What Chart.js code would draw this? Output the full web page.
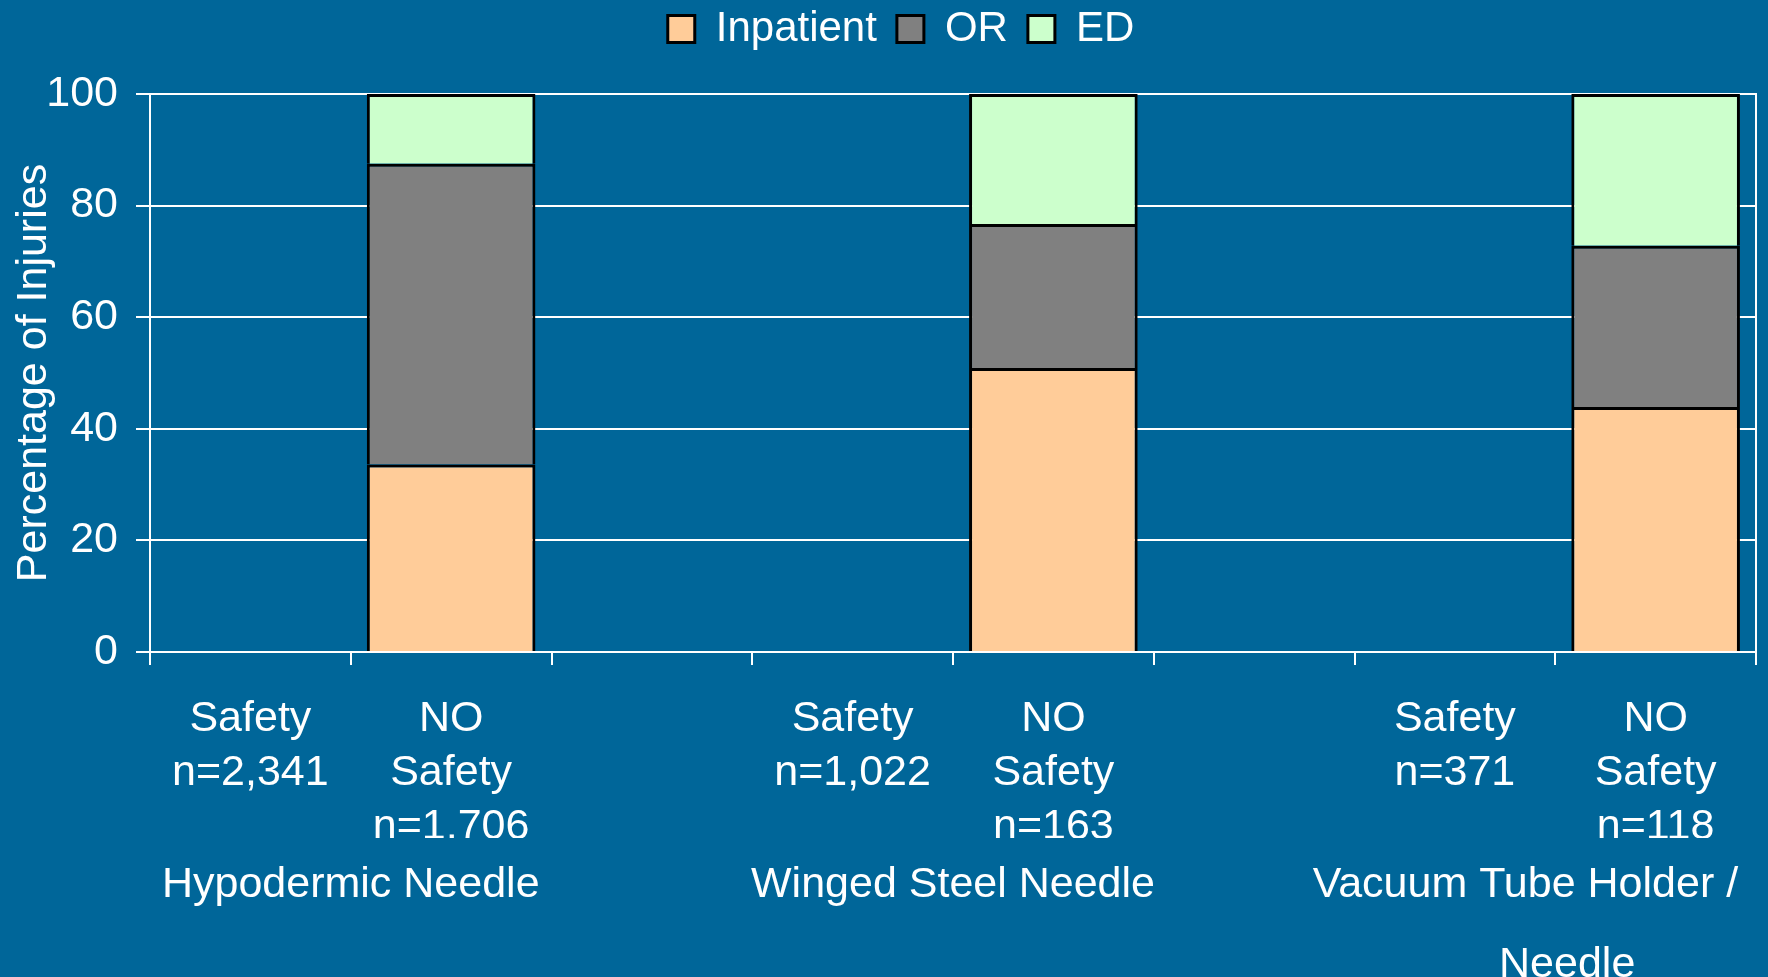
<!DOCTYPE html>
<html>
<head>
<meta charset="utf-8">
<script src="https://cdn.jsdelivr.net/npm/chart.js@4/dist/chart.umd.min.js"></script>
<style>
  html, body { margin: 0; padding: 0; background: #006699; }
  #wrap { width: 1768px; height: 977px; }
</style>
</head>
<body>
<div id="wrap"><canvas id="injuryChart"></canvas></div>
<script>
// categories (one slot per bar, empty slots are the gaps between devices)
var categories = [
    ["Safety", "n=2,341"], ["NO", "Safety", "n=1,706"], "",
    ["Safety", "n=1,022"], ["NO", "Safety", "n=163"], "",
    ["Safety", "n=371"], ["NO", "Safety", "n=118"]
];

// device groups, centred between their two bars
var groupNames = ["Hypodermic Needle", "Winged Steel Needle", ["Vacuum Tube Holder /     ", "  Needle"]];
var groupSlots = [1, 4, 7];

// percentages (Safety bars have no values)
var inpatient = [null, 33.6, null, null, 50.9, null, null, 43.9];
var orValues  = [null, 53.9, null, null, 25.8, null, null, 28.9];
var edValues  = [null, 12.5, null, null, 23.3, null, null, 27.2];

var yTicks = [0, 20, 40, 60, 80, 100];

var font = "'Liberation Sans', Arial, sans-serif";

// legend sits high, plot starts well below it
var legendPlacement = {
    id: "legendPlacement",
    beforeInit: function(chart) {
        var fit = chart.legend.fit;
        chart.legend.fit = function() {
            fit.call(this);
            this.height = 106;
        };
    },
    afterLayout: function(chart) {
        chart.legend.left += 19;
        chart.legend.right += 19;
    }
};

// labels may hang past the plot edges without shrinking it
function noSidePadding(scale) {
    scale.paddingLeft = 0;
    scale.paddingRight = 0;
}

new Chart("injuryChart", {
    type: "bar",
    data: {
        labels: categories,
        datasets: [{
            label: "Inpatient",
            data: inpatient,
            backgroundColor: "#FFCC99",
            borderColor: "#000000",
            borderWidth: 3
        }, {
            label: "OR",
            data: orValues,
            backgroundColor: "#808080",
            borderColor: "#000000",
            borderWidth: 3
        }, {
            label: "ED",
            data: edValues,
            backgroundColor: "#CCFFCC",
            borderColor: "#000000",
            borderWidth: 3
        }]
    },
    plugins: [legendPlacement],
    options: {
        responsive: true,
        maintainAspectRatio: false,
        animation: false,
        barPercentage: 0.84,
        categoryPercentage: 1,
        layout: {
            padding: { left: 8, right: 12, top: -12, bottom: 0 }
        },
        plugins: {
            tooltip: { enabled: false },
            legend: {
                position: "top",
                labels: {
                    color: "#ffffff",
                    font: { family: font, size: 42 },
                    boxWidth: 27,
                    boxHeight: 27,
                    padding: 20
                }
            }
        },
        scales: {
            x: {
                stacked: true,
                afterFit: function(scale) {
                    scale.height = 186;
                    noSidePadding(scale);
                },
                grid: {
                    drawOnChartArea: false,
                    color: "#ffffff",
                    lineWidth: 2,
                    tickLength: 13
                },
                border: { color: "#ffffff", width: 2 },
                ticks: {
                    color: "#ffffff",
                    font: { family: font, size: 43, lineHeight: 1.26 },
                    padding: 27,
                    maxRotation: 0,
                    autoSkip: false
                }
            },
            x2: {
                type: "linear",
                position: "bottom",
                offset: false,
                min: 0,
                max: 8,
                afterFit: function(scale) {
                    scale.height = 139;
                    noSidePadding(scale);
                },
                grid: { display: false },
                border: { display: false },
                afterBuildTicks: function(scale) {
                    scale.ticks = groupSlots.map(v => ({ value: v }));
                },
                ticks: {
                    color: "#ffffff",
                    font: { family: font, size: 43, lineHeight: 1.84 },
                    padding: 0,
                    maxRotation: 0,
                    autoSkip: false,
                    callback: function(value, index) {
                        return groupNames[index];
                    }
                }
            },
            y: {
                stacked: true,
                min: 0,
                max: 100,
                afterBuildTicks: function(scale) {
                    scale.ticks = yTicks.map(v => ({ value: v }));
                },
                afterFit: function(scale) {
                    scale.width = 142;
                },
                grid: {
                    color: "#ffffff",
                    lineWidth: 2,
                    tickLength: 14
                },
                border: { color: "#ffffff", width: 2 },
                ticks: {
                    color: "#ffffff",
                    font: { family: font, size: 43 },
                    padding: 18
                },
                title: {
                    display: true,
                    text: "Percentage of Injuries",
                    color: "#ffffff",
                    font: { family: font, size: 43 },
                    padding: 0
                }
            },
            yRight: {
                position: "right",
                min: 0,
                max: 100,
                afterFit: function(scale) {
                    scale.width = 0;
                },
                grid: { drawOnChartArea: false, drawTicks: false },
                border: { color: "#ffffff", width: 2 },
                ticks: { display: false }
            }
        }
    }
});
</script>
</body>
</html>
